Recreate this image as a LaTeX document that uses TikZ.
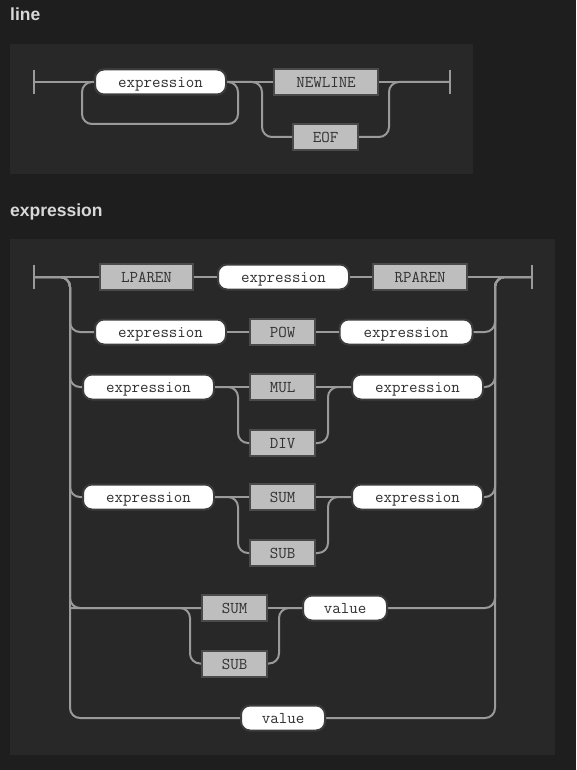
\documentclass[tikz,border=0pt]{standalone}
\usepackage{fontspec}
\newfontfamily\titlefont{Liberation Sans}
\definecolor{bgc}{HTML}{1E1E1E}
\definecolor{panelc}{HTML}{282828}
\definecolor{railc}{HTML}{9A9A9A}
\definecolor{ntborder}{HTML}{3C3C3C}
\definecolor{tborder}{HTML}{4A4A4A}
\definecolor{tfill}{HTML}{BEBEBE}
\definecolor{txtc}{HTML}{303030}
\definecolor{titlec}{HTML}{D8D8D8}
\tikzset{
  rail/.style={draw=railc, line width=2pt, rounded corners=10pt},
  nt/.style={draw=ntborder, fill=white, line width=2pt, rounded corners=9pt,
    minimum height=25pt, inner sep=0pt, text=txtc, text height=11pt, text depth=0pt,
    font=\fontsize{16.5}{16}\selectfont\ttfamily},
  term/.style={draw=tborder, fill=tfill, line width=2pt,
    minimum height=26pt, inner sep=0pt, text=txtc, text height=11pt, text depth=0pt,
    font=\fontsize{16.5}{16}\selectfont\ttfamily},
  endbar/.style={draw=railc, line width=2pt},
  title/.style={anchor=base west, inner sep=0pt, text=titlec,
    font=\titlefont\bfseries\fontsize{17.5}{17}\selectfont}
}
\begin{document}
\begin{tikzpicture}[x=1pt,y=-1pt]
\fill[bgc] (0,0) rectangle (576,770);
\useasboundingbox (0,0) rectangle (576,770);
\fill[panelc] (10,44) rectangle (473,174);
\fill[panelc] (10,239) rectangle (555,755);
\node[title] (ttl1) at (10,21) {line};
\node[title] (ttl2) at (10,216) {expression};

% ---------- line ----------
\coordinate (s1) at (34,82);
\coordinate (t1) at (450,82);
\draw[endbar] (34,70) -- (34,94);
\draw[endbar] (450,70) -- (450,94);
\node[nt, minimum width=131pt] (L1e) at (160.5,82) {expression};
\node[term, minimum width=104pt] (L1n) at (326,82) {NEWLINE};
\node[term, minimum width=65pt] (L1f) at (325.5,137) {EOF};
\draw[rail] (s1) -- (L1e.west);
\draw[rail] (L1e.east) -- (238,82) -- (238,124) -- (82,124) -- (82,82) -- (L1e.west);
\draw[rail] (L1e.east) -- (L1n.west);
\draw[rail] (L1n.east) -- (t1);
\draw[rail] (L1e.east) -- (262,82) -- (262,137) -- (L1f.west);
\draw[rail] (L1f.east) -- (389,137) -- (389,82) -- (t1);
\node[nt, minimum width=131pt] at (L1e) {expression};

% ---------- expression ----------
\coordinate (s2) at (34,277);
\coordinate (t2) at (532,277);
\draw[endbar] (34,265) -- (34,289);
\draw[endbar] (532,265) -- (532,289);

\draw[rail] (s2) -- (100,277);
\draw[rail] (s2) -- (70,277) -- (70,332) -- (95,332);
\draw[rail] (s2) -- (70,277) -- (70,387) -- (83,387);
\draw[rail] (s2) -- (70,277) -- (70,497) -- (83,497);
\draw[rail] (s2) -- (70,277) -- (70,608) -- (202,608);
\draw[rail] (s2) -- (70,277) -- (70,718) -- (241,718);
\draw[rail] (70,608) -- (190,608) -- (190,663.5) -- (202,663.5);
\draw[rail] (467,277) -- (t2);
\draw[rail] (473,332) -- (495,332) -- (495,277) -- (t2);
\draw[rail] (483,387) -- (495,387) -- (495,277) -- (t2);
\draw[rail] (483,497) -- (495,497) -- (495,277) -- (t2);
\draw[rail] (387,608) -- (495,608) -- (495,277) -- (t2);
\draw[rail] (325,718) -- (495,718) -- (495,277) -- (t2);

% row 1
\node[term, minimum width=93pt] (LP) at (146.5,277) {LPAREN};
\node[nt, minimum width=131pt] (E1) at (283.5,277) {expression};
\node[term, minimum width=94pt] (RP) at (420,277) {RPAREN};
\draw[rail] (LP.east) -- (E1.west);
\draw[rail] (E1.east) -- (RP.west);
% row 2
\node[nt, minimum width=131pt] (E2a) at (160.5,332) {expression};
\node[term, minimum width=65pt] (POW) at (282.5,332) {POW};
\node[nt, minimum width=133pt] (E2c) at (406,332) {expression};
\draw[rail] (E2a.east) -- (POW.west);
\draw[rail] (POW.east) -- (E2c.west);
% row 3
\node[nt, minimum width=131pt] (E3a) at (148.5,387) {expression};
\node[term, minimum width=65pt] (MUL) at (282.5,387) {MUL};
\node[term, minimum width=65pt] (DIV) at (282.5,443) {DIV};
\node[nt, minimum width=131pt] (E3c) at (417.5,387) {expression};
\draw[rail] (E3a.east) -- (MUL.west);
\draw[rail] (MUL.east) -- (E3c.west);
\draw[rail] (E3a.east) -- (238,387) -- (238,443) -- (DIV.west);
\draw[rail] (DIV.east) -- (328,443) -- (328,387) -- (E3c.west);
% row 4
\node[nt, minimum width=131pt] (E4a) at (148.5,497) {expression};
\node[term, minimum width=65pt] (SUM4) at (282.5,497) {SUM};
\node[term, minimum width=65pt] (SUB4) at (282.5,553) {SUB};
\node[nt, minimum width=131pt] (E4c) at (417.5,497) {expression};
\draw[rail] (E4a.east) -- (SUM4.west);
\draw[rail] (SUM4.east) -- (E4c.west);
\draw[rail] (E4a.east) -- (238,497) -- (238,553) -- (SUB4.west);
\draw[rail] (SUB4.east) -- (328,553) -- (328,497) -- (E4c.west);
% row 5
\node[term, minimum width=65pt] (SUM5) at (234.5,608) {SUM};
\node[term, minimum width=65pt] (SUB5) at (234.5,663.5) {SUB};
\node[nt, minimum width=84pt] (V5) at (345,608) {value};
\draw[rail] (SUM5.east) -- (V5.west);
\draw[rail] (SUB5.east) -- (279,663.5) -- (279,608) -- (V5.west);
% row 6
\node[nt, minimum width=84pt] (V6) at (283,718) {value};
\end{tikzpicture}
\end{document}
